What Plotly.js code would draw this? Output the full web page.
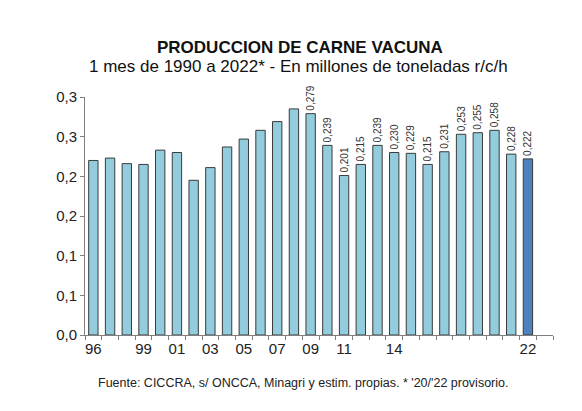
<!DOCTYPE html>
<html>
<head>
<meta charset="utf-8">
<script src="https://cdn.plot.ly/plotly-3.0.1.min.js"></script>
<style>
  html, body { margin: 0; padding: 0; background: #fff; }
  #chart { width: 582px; height: 411px; }
</style>
</head>
<body>
<div id="chart"></div>
<script>
// Años (1996-2022) y producción en millones de toneladas r/c/h
const years = [1996, 1997, 1998, 1999, 2000, 2001, 2002, 2003, 2004, 2005, 2006, 2007, 2008,
               2009, 2010, 2011, 2012, 2013, 2014, 2015, 2016, 2017, 2018, 2019, 2020, 2021, 2022];
const produccion = [0.220, 0.223, 0.216, 0.215, 0.233, 0.230, 0.195, 0.211, 0.237, 0.247, 0.258, 0.269, 0.285,
                    0.279, 0.239, 0.201, 0.215, 0.239, 0.230, 0.229, 0.215, 0.231, 0.253, 0.255, 0.258, 0.228, 0.222];
const firstLabelYear = 2009;

const tickYears = [1996, 1999, 2001, 2003, 2005, 2007, 2009, 2011, 2014, 2022];
const tickLabels = ['96', '99', '01', '03', '05', '07', '09', '11', '14', '22'];

const yTickVals = [0, 0.05, 0.10, 0.15, 0.20, 0.25, 0.30];
const yTickText = ['0,0', '0,1', '0,1', '0,2', '0,2', '0,3', '0,3'];

// Etiquetas solo desde 2009, la última barra en azul oscuro
const barText = produccion.map((v, i) =>
    years[i] >= firstLabelYear ? v.toFixed(3).replace('.', ',') : '');
const barColors = years.map((y, i) => i === years.length - 1 ? '#4f81bd' : '#93cddd');

const txtFont = 'Liberation Sans, Arial, sans-serif';

const barData = [{
    x: years,
    y: produccion,
    type: 'bar',
    width: 0.56,
    text: barText,
    textposition: 'outside',
    textangle: -90,
    constraintext: 'none',
    cliponaxis: false,
    textfont: {
        family: txtFont,
        size: 10,
        color: '#333'
    },
    marker: {
        color: barColors,
        line: { color: '#3a3a3a', width: 1 }
    },
    hoverinfo: 'none'
}];

const layout = {
    width: 582,
    height: 411,
    paper_bgcolor: '#fff',
    plot_bgcolor: '#fff',
    margin: { t: 97, r: 29, b: 76, l: 85 },
    showlegend: false,
    font: { family: txtFont, color: '#222' },
    xaxis: {
        range: [1995.5, 2023.5],
        tickvals: tickYears,
        ticktext: tickLabels,
        ticks: '',
        tickfont: { size: 15, color: '#222' },
        showgrid: false,
        zeroline: false,
        showline: true,
        linecolor: '#7f7f7f',
        linewidth: 1,
        minor: {
            ticks: 'outside',
            tick0: 1995.5,
            dtick: 1,
            ticklen: 4,
            tickcolor: '#7f7f7f',
            showgrid: false
        }
    },
    yaxis: {
        range: [0, 0.3],
        tickvals: yTickVals,
        ticktext: yTickText,
        ticks: 'outside',
        ticklen: 4,
        tickcolor: '#7f7f7f',
        tickfont: { size: 15, color: '#222' },
        showgrid: false,
        zeroline: false,
        showline: true,
        linecolor: '#7f7f7f',
        linewidth: 1
    },
    annotations: [
        {
            text: '<b>PRODUCCION DE CARNE VACUNA</b>',
            xref: 'paper', yref: 'paper',
            x: 0.459, y: 1.21,
            xanchor: 'center', yanchor: 'middle',
            showarrow: false,
            font: { size: 17, color: '#111' }
        },
        {
            text: '1 mes de 1990 a 2022* - En millones de toneladas r/c/h',
            xref: 'paper', yref: 'paper',
            x: 0.457, y: 1.128,
            xanchor: 'center', yanchor: 'middle',
            showarrow: false,
            font: { size: 17, color: '#111' }
        },
        {
            text: "Fuente: CICCRA, s/ ONCCA, Minagri y estim. propias. * '20/'22 provisorio.",
            xref: 'paper', yref: 'paper',
            x: 0.465, y: -0.202,
            xanchor: 'center', yanchor: 'middle',
            showarrow: false,
            font: { size: 12.5, color: '#222' }
        }
    ]
};

Plotly.newPlot('chart', barData, layout, { displayModeBar: false, staticPlot: true });
</script>
</body>
</html>
